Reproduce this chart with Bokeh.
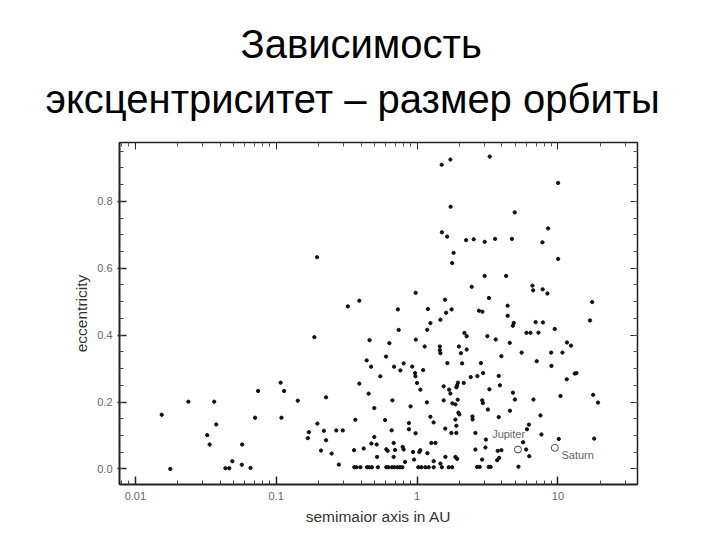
from bokeh.plotting import figure
from bokeh.models import (LogAxis, LinearAxis, FixedTicker, Title, PrintfTickFormatter,
                          CustomJSTickFormatter, Range1d, ColumnDataSource)
from bokeh.embed import file_html
from bokeh.resources import INLINE
from bokeh.core.properties import value

# ---------------- data ----------------
semimajor_au = [
    0.0154, 0.0177, 0.0238, 0.0363, 0.0324, 0.0337, 0.0375, 0.0436, 0.0464, 0.0488,
    0.057, 0.0573, 0.0657, 0.0708, 0.0744, 0.1075, 0.1138, 0.109, 0.1423, 0.1676,
    0.1704, 0.1865, 0.195, 0.196, 0.2258, 0.218, 0.2258, 0.208, 0.2474, 0.267,
    0.297, 0.2783, 0.3225, 0.357, 0.3645, 0.389, 0.389, 0.4385, 0.46, 0.4714,
    0.418, 0.453, 0.4737, 0.5165, 0.497, 0.52, 0.497, 0.5486, 0.602, 0.6357,
    0.6865, 0.6677, 0.5925, 0.66, 0.605, 0.618, 0.682, 0.698, 0.682, 0.74,
    0.7305, 0.761, 0.803, 0.923, 0.968, 1.105, 0.977, 0.98, 1.132, 1.193,
    1.18, 1.243, 0.973, 1.0, 1.055, 0.899, 1.174, 0.875, 0.875, 0.976,
    1.243, 1.31, 0.79, 0.803, 0.822, 0.937, 0.952, 1.038, 1.055, 1.184,
    1.263, 1.349, 1.312, 1.464, 1.589, 1.584, 1.752, 1.9, 1.871, 1.901,
    1.871, 1.925, 1.545, 1.688, 1.724, 1.949, 1.926, 1.901, 1.545, 1.781,
    1.943, 1.871, 1.965, 1.997, 1.641, 1.452, 1.45, 1.464, 1.981, 2.047,
    2.087, 1.58, 1.607, 1.758, 1.464, 1.816, 1.775, 1.5, 1.634, 1.73,
    1.495, 1.724,
    0.3587, 0.3707, 0.3957, 0.4415, 0.4585, 0.4775, 0.5267, 0.605, 0.6253, 0.6622,
    0.69, 0.7246, 0.7547, 0.786, 1.021, 1.073, 1.145, 1.209, 1.312, 1.5,
    1.677, 1.773,
    2.168, 2.25, 2.25, 2.228, 2.523, 3.02, 3.58, 4.713, 7.76, 3.278,
    10.03, 4.934, 8.52, 10.03, 3.016, 4.287, 2.442, 6.59, 6.67, 7.785,
    8.42, 3.235, 17.5, 2.748, 2.91, 4.393, 4.395, 16.88, 4.854, 4.79,
    6.944, 7.825, 5.974, 6.38, 7.27, 9.49, 3.157, 3.615, 4.548, 11.58,
    12.37, 5.524, 8.947, 10.76, 3.969, 7.07, 8.99, 2.839, 2.403, 2.681,
    2.943, 3.797, 3.873, 3.262, 2.143, 4.79, 4.95, 6.7, 10.42, 17.78,
    19.24, 13.53, 13.16, 11.55, 2.9, 2.93, 3.183, 4.562, 2.47, 2.478,
    3.797, 7.51, 6.223, 6.025, 7.635, 2.594, 3.081, 5.66, 5.944, 6.255,
    10.13, 18.07, 3.056, 2.594, 3.969, 3.736, 2.894, 3.7, 3.823, 2.668,
    2.784, 3.225, 3.327, 5.243,
]
eccentricity = [
    0.162, 0.0, 0.201, 0.201, 0.101, 0.073, 0.133, 0.002, 0.002, 0.023,
    0.0125, 0.073, 0.003, 0.153, 0.233, 0.258, 0.233, 0.153, 0.204, 0.092,
    0.110, 0.394, 0.633, 0.1355, 0.214, 0.114, 0.0857, 0.055, 0.046, 0.115,
    0.115, 0.013, 0.486, 0.056, 0.147, 0.255, 0.503, 0.3245, 0.385, 0.3057,
    0.061, 0.225, 0.076, 0.073, 0.0955, 0.036, 0.182, 0.277, 0.336, 0.376,
    0.3057, 0.205, 0.146, 0.1155, 0.0588, 0.054, 0.0776, 0.0567, 0.036, 0.4155,
    0.477, 0.2946, 0.3155, 0.306, 0.2866, 0.2955, 0.5266, 0.3866, 0.366, 0.478,
    0.416, 0.436, 0.277, 0.257, 0.237, 0.187, 0.199, 0.137, 0.1185, 0.1066,
    0.156, 0.139, 0.0657, 0.058, 0.021, 0.0507, 0.028, 0.0507, 0.056, 0.047,
    0.0776, 0.0776, 0.023, 0.016, 0.036, 0.1206, 0.1075, 0.1075, 0.1475, 0.129,
    0.036, 0.030, 0.247, 0.237, 0.2254, 0.258, 0.2504, 0.244, 0.205, 0.196,
    0.207, 0.193, 0.168, 0.163, 0.3164, 0.366, 0.355, 0.346, 0.366, 0.346,
    0.3155, 0.506, 0.467, 0.477, 0.446, 0.646, 0.6155, 0.7075, 0.6946, 0.784,
    0.9096, 0.925,
    0.005, 0.005, 0.005, 0.005, 0.005, 0.005, 0.005, 0.005, 0.005, 0.005,
    0.005, 0.005, 0.005, 0.005, 0.005, 0.005, 0.005, 0.005, 0.005, 0.005,
    0.005, 0.005,
    0.4066, 0.3967, 0.357, 0.684, 0.6866, 0.679, 0.6878, 0.6878, 0.6776, 0.934,
    0.855, 0.767, 0.719, 0.628, 0.577, 0.577, 0.5445, 0.548, 0.534, 0.537,
    0.5245, 0.511, 0.499, 0.473, 0.47, 0.488, 0.458, 0.444, 0.4364, 0.428,
    0.439, 0.438, 0.407, 0.407, 0.4075, 0.4185, 0.397, 0.387, 0.377, 0.378,
    0.3687, 0.3478, 0.3478, 0.3478, 0.337, 0.322, 0.308, 0.3164, 0.2746, 0.2776,
    0.2866, 0.278, 0.25, 0.238, 0.257, 0.228, 0.2075, 0.2075, 0.218, 0.2215,
    0.1985, 0.2866, 0.285, 0.268, 0.205, 0.197, 0.1776, 0.174, 0.157, 0.148,
    0.155, 0.16, 0.1325, 0.1185, 0.103, 0.1075, 0.0878, 0.0797, 0.058, 0.038,
    0.0896, 0.0907, 0.064, 0.058, 0.056, 0.054, 0.028, 0.026, 0.033, 0.006,
    0.006, 0.006, 0.006, 0.0066,
]

planet_names = ["Jupiter", "Saturn"]
planet_au = [5.2, 9.5]
planet_ecc = [0.058, 0.063]
# label anchors (data units)
planet_label_au = [3.41, 10.59]
planet_label_ecc = [0.1036, 0.043]

x_major_ticks = [0.01, 0.1, 1, 10]
x_minor_ticks = [0.008, 0.009,
                 0.02, 0.03, 0.04, 0.05, 0.06, 0.07, 0.08, 0.09,
                 0.2, 0.3, 0.4, 0.5, 0.6, 0.7, 0.8, 0.9,
                 2, 3, 4, 5, 6, 7, 8, 9, 20, 30]
y_major_ticks = [0.0, 0.2, 0.4, 0.6, 0.8]
y_minor_ticks = [round(0.05 * i, 2) for i in range(0, 20)]

title_line1 = "Зависимость"
title_line2 = "эксцентриситет – размер орбиты"
x_label = "semimaior axis in AU"
y_label = "eccentricity"

# ---------------- figure ----------------
FONT = "Liberation Sans"
p = figure(width=720, height=540, x_axis_type="log",
           x_range=Range1d(0.00772, 36.7), y_range=Range1d(-0.0466, 0.976),
           output_backend="svg", toolbar_location=None, title_location=None,
           min_border_left=119, min_border_right=83, min_border_top=142,
           min_border_bottom=56)
p.background_fill_color = "white"
p.border_fill_color = "white"
p.xgrid.visible = False
p.ygrid.visible = False
p.outline_line_color = "#333333"
p.outline_line_width = 1

axis_color = "#222222"

xa = p.xaxis[0]
xa.ticker = FixedTicker(ticks=x_major_ticks, minor_ticks=x_minor_ticks)
xa.formatter = CustomJSTickFormatter(code="return tick.toString()")
xa.axis_line_color = axis_color
xa.axis_line_width = 2
xa.major_tick_in = 8
xa.major_tick_out = 0
xa.minor_tick_in = 4
xa.minor_tick_out = 0
xa.major_tick_line_width = 1.5
xa.major_tick_line_color = axis_color
xa.minor_tick_line_color = "#444444"
xa.major_label_text_font = FONT
xa.major_label_text_font_size = "11px"
xa.major_label_text_color = "#666666"
xa.major_label_standoff = 7
xa.axis_label = x_label
xa.axis_label_text_font = FONT
xa.axis_label_text_font_style = "normal"
xa.axis_label_text_font_size = "15.5px"
xa.axis_label_text_color = "#333333"
xa.axis_label_standoff = 5

ya = p.yaxis[0]
ya.ticker = FixedTicker(ticks=y_major_ticks, minor_ticks=y_minor_ticks)
ya.formatter = PrintfTickFormatter(format="%.1f")
ya.axis_line_color = axis_color
ya.axis_line_width = 2
ya.major_tick_in = 7
ya.major_tick_out = 2
ya.minor_tick_in = 4
ya.minor_tick_out = 0
ya.major_tick_line_width = 1.5
ya.major_tick_line_color = axis_color
ya.minor_tick_line_color = "#444444"
ya.major_label_text_font = FONT
ya.major_label_text_font_size = "11px"
ya.major_label_text_color = "#666666"
ya.major_label_standoff = 5
ya.axis_label = y_label
ya.axis_label_text_font = FONT
ya.axis_label_text_font_style = "normal"
ya.axis_label_text_font_size = "15.5px"
ya.axis_label_text_color = "#333333"
ya.axis_label_standoff = 4

blank = CustomJSTickFormatter(code="return ''")
top_axis = LogAxis(ticker=FixedTicker(ticks=x_major_ticks, minor_ticks=x_minor_ticks),
                   formatter=blank, axis_line_color=axis_color, axis_line_width=1.5,
                   major_tick_in=7, major_tick_out=0, minor_tick_in=4, minor_tick_out=0,
                   major_tick_line_color=axis_color, minor_tick_line_color="#555555",
                   major_label_standoff=0, major_label_text_font_size="1px")
p.add_layout(top_axis, "above")
right_axis = LinearAxis(ticker=FixedTicker(ticks=y_major_ticks, minor_ticks=y_minor_ticks),
                        formatter=blank, axis_line_color=axis_color, axis_line_width=1.5,
                        major_tick_in=7, major_tick_out=0, minor_tick_in=4, minor_tick_out=0,
                        major_tick_line_color=axis_color, minor_tick_line_color="#555555",
                        major_label_standoff=0, major_label_text_font_size="1px")
p.add_layout(right_axis, "right")

# titles: first added sits nearest the frame
t2 = Title(text=title_line2, align="left", offset=-74, text_font=FONT,
           text_font_size="40px", text_font_style="normal", text_color="black",
           standoff=44)
t1 = Title(text=title_line1, align="left", offset=121, text_font=FONT,
           text_font_size="40px", text_font_style="normal", text_color="black",
           standoff=-26)
p.add_layout(t2, "above")
p.add_layout(t1, "above")

src = ColumnDataSource(dict(a=semimajor_au, e=eccentricity))
p.scatter("a", "e", source=src, size=3.3, color="#111111", marker="circle")

psrc = ColumnDataSource(dict(a=planet_au, e=planet_ecc, la=planet_label_au,
                             le=planet_label_ecc, name=planet_names))
p.scatter("a", "e", source=psrc, size=7, marker="circle", fill_color=None,
          line_color="#444444", line_width=1)
p.text("la", "le", text="name", source=psrc, text_font=value(FONT),
       text_font_size="11px", text_color="#666666", text_baseline="middle",
       text_align="left")

open("out.html", "w").write(file_html(p, INLINE))
